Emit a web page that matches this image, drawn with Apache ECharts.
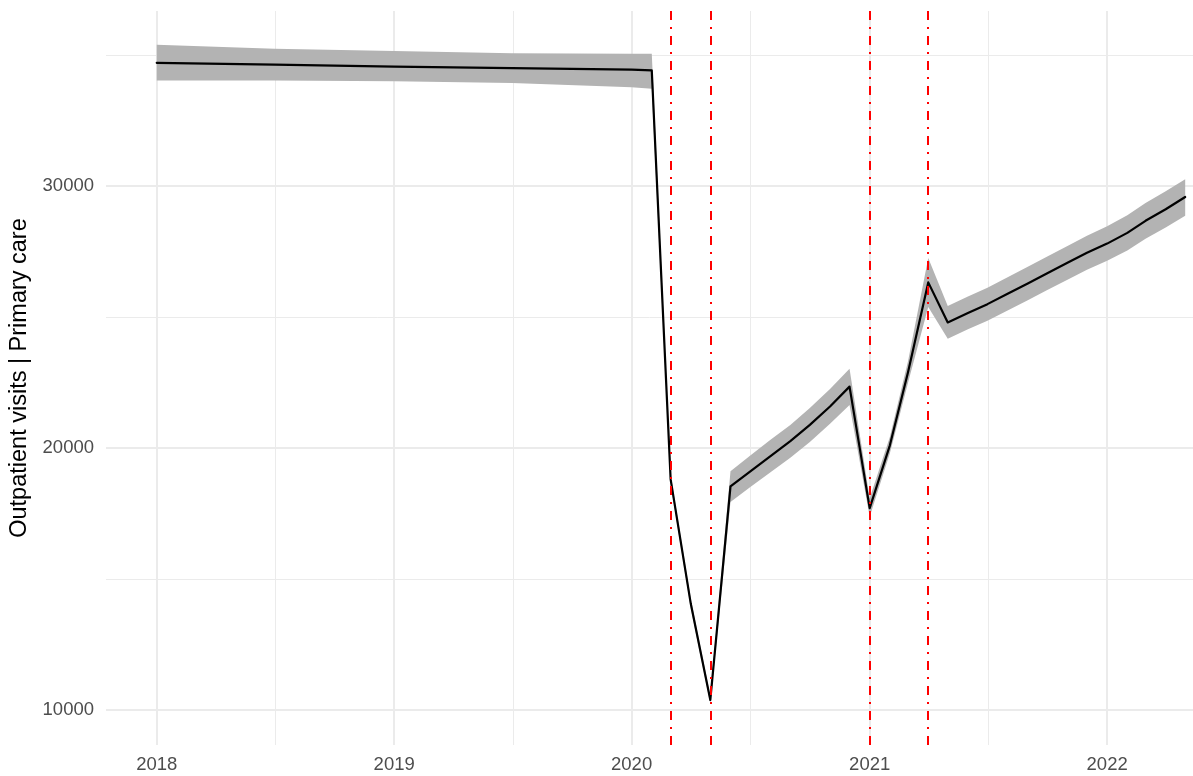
<!DOCTYPE html>
<html>
<head>
<meta charset="utf-8">
<script src="https://cdn.jsdelivr.net/npm/echarts@6/dist/echarts.min.js"></script>
<style>
  html, body { margin: 0; padding: 0; background: #ffffff; }
  #chart { width: 1193px; height: 776px; }
</style>
</head>
<body>
<div id="chart"></div>
<script>
// Monthly modelled outpatient visits (primary care) with confidence band
const months = [
  '2018-01-01', '2018-07-01', '2019-01-01', '2019-07-01', '2020-01-01',
  '2020-02-01', '2020-03-01', '2020-04-01', '2020-05-01',
  '2020-06-01', '2020-07-01', '2020-08-01', '2020-09-01', '2020-10-01', '2020-11-01',
  '2020-12-01', '2021-01-01', '2021-02-01', '2021-03-01', '2021-04-01', '2021-05-01',
  '2021-06-01', '2021-07-01', '2021-08-01', '2021-09-01', '2021-10-01', '2021-11-01',
  '2021-12-01', '2022-01-01', '2022-02-01', '2022-03-01', '2022-04-01', '2022-05-01'
];
const fitted = [
  34700, 34630, 34560, 34500, 34440,
  34410, 18800, 14050, 10380,
  18530, 19100, 19680, 20260, 20880, 21580,
  22340, 17700, 20100, 22900, 26320, 24790,
  25150, 25490, 25890, 26280, 26670, 27070,
  27450, 27800, 28210, 28670, 29110, 29580
];
const lowerCI = [
  34030, 34030, 34000, 33930, 33770,
  33710, 18620, 13870, 10230,
  17940, 18500, 19060, 19630, 20230, 20920,
  21640, 17370, 19800, 22500, 25380, 24170,
  24530, 24860, 25250, 25640, 26030, 26420,
  26800, 27150, 27540, 27990, 28420, 28860
];
const upperCI = [
  35390, 35240, 35150, 35070, 35050,
  35050, 18980, 14230, 10530,
  19110, 19700, 20300, 20880, 21520, 22250,
  23020, 18080, 20420, 23320, 27250, 25420,
  25780, 26120, 26520, 26920, 27310, 27710,
  28100, 28460, 28880, 29350, 29800, 30260
];

// Policy / event dates marked with vertical reference lines
const eventDates = ['2020-03-01', '2020-05-01', '2021-01-01', '2021-04-01'];

// Axis breaks
const yearBreaks = ['2018-01-01', '2019-01-01', '2020-01-01', '2021-01-01', '2022-01-01'];
const valueBreaks = [10000, 20000, 30000];
const minorValueBreaks = [15000, 25000, 35000];

const yTitle = 'Outpatient visits | Primary care';

const ts = s => Date.parse(s + 'T00:00:00Z');
const yearTickValues = yearBreaks.map(ts);
// minor breaks sit halfway between the yearly breaks
const minorYearTickValues = yearTickValues.slice(0, -1).map((v, i) => (v + yearTickValues[i + 1]) / 2);

const X_MIN = ts('2017-10-15');
const X_MAX = ts('2022-05-13');
const Y_MIN = 8660;
const Y_MAX = 36680;

const FONT = 'Liberation Sans, Arial, Helvetica, sans-serif';
const GRID = '#ebebeb';

const chart = echarts.init(document.getElementById('chart'), null, { renderer: 'canvas' });

chart.setOption({
  animation: false,
  backgroundColor: '#ffffff',
  textStyle: { fontFamily: FONT },
  grid: { left: 106, right: 0, top: 11, bottom: 31, containLabel: false, outerBoundsMode: 'none' },
  xAxis: [
    {
      type: 'value', min: X_MIN, max: X_MAX,
      axisLine: { show: false },
      axisTick: { show: false, customValues: yearTickValues },
      axisLabel: {
        customValues: yearTickValues,
        formatter: v => String(new Date(v).getUTCFullYear()),
        color: '#4d4d4d', fontSize: 18.5, fontFamily: FONT, margin: 10
      },
      splitLine: { show: true, lineStyle: { color: GRID, width: 2 } }
    },
    {
      type: 'value', min: X_MIN, max: X_MAX,
      axisLine: { show: false },
      axisTick: { show: false, customValues: minorYearTickValues },
      axisLabel: { show: false, customValues: minorYearTickValues },
      splitLine: { show: true, lineStyle: { color: GRID, width: 1 } }
    }
  ],
  yAxis: [
    {
      type: 'value', min: Y_MIN, max: Y_MAX,
      name: yTitle, nameLocation: 'middle', nameRotate: 90, nameGap: 58,
      nameTextStyle: { color: '#000000', fontSize: 23.5, fontFamily: FONT },
      axisLine: { show: false },
      axisTick: { show: false, customValues: valueBreaks },
      axisLabel: {
        customValues: valueBreaks,
        formatter: v => String(v),
        color: '#4d4d4d', fontSize: 18.5, fontFamily: FONT, margin: 12
      },
      splitLine: { show: true, lineStyle: { color: GRID, width: 2 } }
    },
    {
      type: 'value', min: Y_MIN, max: Y_MAX, position: 'left',
      axisLine: { show: false },
      axisTick: { show: false, customValues: minorValueBreaks },
      axisLabel: { show: false, customValues: minorValueBreaks },
      splitLine: { show: true, lineStyle: { color: GRID, width: 1 } }
    }
  ],
  series: [
    {
      // confidence band drawn as one polygon: upper edge forward, lower edge back
      name: 'ci', type: 'custom', silent: true,
      xAxisIndex: 0, yAxisIndex: 0,
      data: months.map((m, i) => [ts(m), lowerCI[i], upperCI[i]]),
      encode: { x: 0, y: [1, 2] },
      renderItem: (params, api) => {
        if (params.dataIndex !== 0) return null;
        const top = months.map((m, i) => api.coord([ts(m), upperCI[i]]));
        const bottom = months.map((m, i) => api.coord([ts(m), lowerCI[i]])).reverse();
        return {
          type: 'polygon',
          shape: { points: top.concat(bottom) },
          style: { fill: '#b3b3b3' }
        };
      }
    },
    {
      name: 'fitted', type: 'line', symbol: 'none', silent: true,
      xAxisIndex: 0, yAxisIndex: 0,
      lineStyle: { color: '#000000', width: 2.2, join: 'round', cap: 'round' },
      data: months.map((m, i) => [ts(m), fitted[i]]),
      markLine: {
        silent: true,
        symbol: ['none', 'none'],
        label: { show: false },
        lineStyle: { color: '#ff0000', width: 2, type: [9, 7, 2, 7] },
        data: eventDates.map(d => ({ xAxis: ts(d) }))
      }
    }
  ]
});
</script>
</body>
</html>
